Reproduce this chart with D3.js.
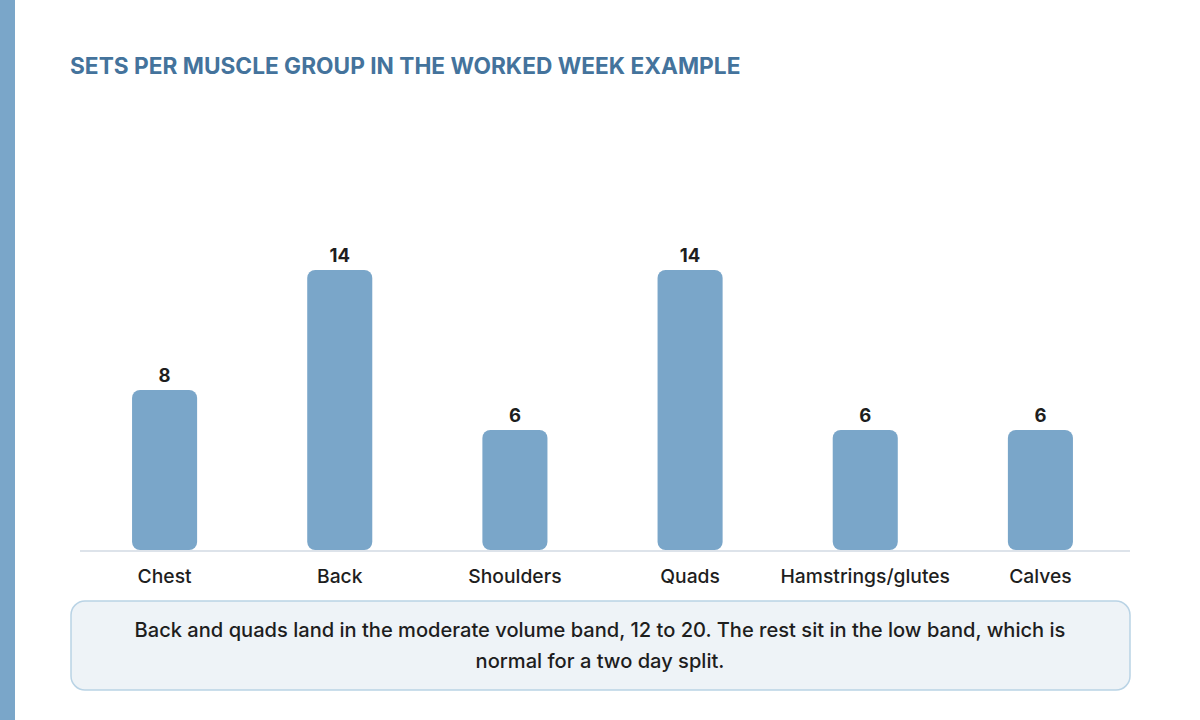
<!DOCTYPE html>
<html>
<head>
<meta charset="utf-8">
<script src="https://cdn.jsdelivr.net/npm/d3@7"></script>
<style>
  body { margin: 0; background: #fff; }
  svg { display: block; font-family: Inter, Lato, sans-serif; }
</style>
</head>
<body>
<script>
// données du graphique
const categories = ["Chest", "Back", "Shoulders", "Quads", "Hamstrings/glutes", "Calves"];
const sets = [8, 14, 6, 14, 6, 6];
const titre = "SETS PER MUSCLE GROUP IN THE WORKED WEEK EXAMPLE";
const note = ["Back and quads land in the moderate volume band, 12 to 20. The rest sit in the low band, which is",
              "normal for a two day split."];

const [w, h] = [1200, 720];

const svg = d3.select("body").append("svg")
    .attr("width", w)
    .attr("height", h);

// bande à gauche
svg.append("rect")
    .attr("x", 0).attr("y", 0)
    .attr("width", 15).attr("height", h)
    .attr("fill", "#7aa6c9");

// titre
svg.append("text")
    .attr("x", 70).attr("y", 74)
    .attr("font-size", 22.7)
    .attr("font-weight", 700)
    .attr("fill", "#44739c")
    .text(titre);

// échelles
const xScale = d3.scaleBand()
    .domain(categories)
    .range([77, 1128])
    .paddingInner(110 / 175)
    .paddingOuter(55 / 175);

const yScale = d3.scaleLinear()
    .domain([0, 17.5])
    .range([550, 200]);

// barres
svg.selectAll("rect.bar")
    .data(sets)
    .enter()
    .append("rect")
    .attr("class", "bar")
    .attr("x", (d, i) => xScale(categories[i]))
    .attr("y", d => yScale(d))
    .attr("width", xScale.bandwidth())
    .attr("height", d => yScale(0) - yScale(d))
    .attr("rx", 8)
    .attr("fill", "#7aa6c9");

// ligne de base
svg.append("line")
    .attr("x1", 80).attr("x2", 1130)
    .attr("y1", yScale(0) + 1).attr("y2", yScale(0) + 1)
    .attr("stroke", "#dde3ea")
    .attr("stroke-width", 2);

// valeurs
svg.selectAll("text.val")
    .data(sets)
    .enter()
    .append("text")
    .attr("class", "val")
    .attr("x", (d, i) => xScale(categories[i]) + xScale.bandwidth() / 2)
    .attr("y", d => yScale(d) - 8)
    .attr("text-anchor", "middle")
    .attr("font-size", 18.5)
    .attr("font-weight", 700)
    .attr("fill", "#1e1e1e")
    .text(d => d);

// axe X (étiquettes)
const xAxis = d3.axisBottom(xScale).tickSize(0).tickPadding(0);
const gx = svg.append("g")
    .attr("transform", "translate(0," + 569 + ")")
    .call(xAxis);
gx.select(".domain").remove();
gx.selectAll("text")
    .attr("dy", "0.7em")
    .attr("font-size", 19.3)
    .attr("font-family", "Inter, Lato, sans-serif")
    .attr("font-weight", 500)
    .attr("fill", "#1e1e1e");

// encadré de note
svg.append("rect")
    .attr("x", 71).attr("y", 601)
    .attr("width", 1059).attr("height", 89)
    .attr("rx", 14)
    .attr("fill", "#eef3f7")
    .attr("stroke", "#b9d3e5")
    .attr("stroke-width", 1.5);

svg.selectAll("text.note")
    .data(note)
    .enter()
    .append("text")
    .attr("class", "note")
    .attr("x", 600)
    .attr("y", (d, i) => 637 + i * 31)
    .attr("text-anchor", "middle")
    .attr("font-size", 20.1)
    .attr("font-weight", 500)
    .attr("fill", "#1e1e1e")
    .text(d => d);
</script>
</body>
</html>
